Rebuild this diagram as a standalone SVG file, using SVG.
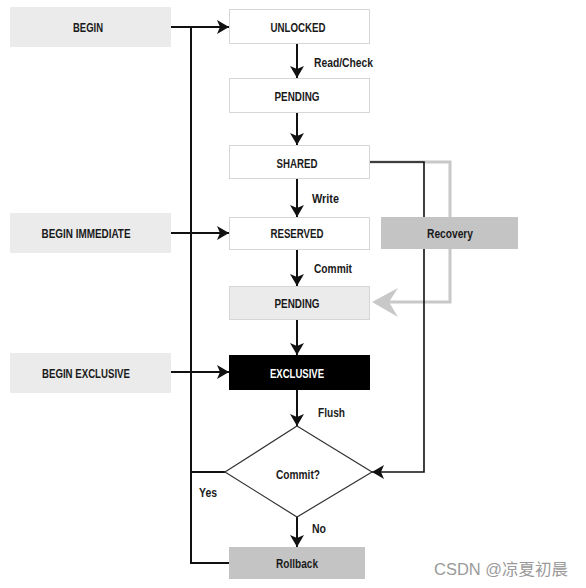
<svg xmlns="http://www.w3.org/2000/svg" width="586" height="588" viewBox="0 0 586 588">
<defs>
<style>
.t{font-family:"Liberation Sans",Arial,sans-serif;font-weight:bold;font-size:13.5px;fill:#1a1a1a;}
.c{text-anchor:middle;}
.w{fill:#ffffff;}
.box{fill:#ffffff;stroke:#d6d6d6;stroke-width:1;}
.src{fill:#ebebeb;}
.pend{fill:#ebebeb;stroke:#d6d6d6;stroke-width:1;}
.dark{fill:#000000;stroke:#000000;}
.gray{fill:#c4c4c4;}
.ln{fill:none;stroke:#111;stroke-width:2;}
.thin{fill:none;stroke:#111;stroke-width:1.6;}
.gl{fill:none;stroke:#c8c8c8;stroke-width:3;}
</style>
<marker id="ah" viewBox="0 0 12 14" refX="12" refY="7" markerWidth="12" markerHeight="14" markerUnits="userSpaceOnUse" orient="auto">
<path d="M0,0 L12,7 L0,14 L3,7 z" fill="#111"/>
</marker>
</defs>
<rect width="586" height="588" fill="#ffffff"/>
<g id="connectors">
<path class="ln" d="M171,27 H229" marker-end="url(#ah)"/>
<path class="ln" d="M191,27 V563 H229"/>
<path class="ln" d="M225,472 H191"/>
<path class="ln" d="M297,43 V78" marker-end="url(#ah)"/>
<path class="ln" d="M297,112 V145" marker-end="url(#ah)"/>
<path class="ln" d="M297,178 V217" marker-end="url(#ah)"/>
<path class="ln" d="M171,233 H229" marker-end="url(#ah)"/>
<path class="ln" d="M297,249 V286" marker-end="url(#ah)"/>
<path class="ln" d="M297,319 V355" marker-end="url(#ah)"/>
<path class="ln" d="M171,372 H229" marker-end="url(#ah)"/>
<path class="ln" d="M297,389 V426" marker-end="url(#ah)"/>
<path class="ln" d="M297,517 V547" marker-end="url(#ah)"/>
<path class="gl" d="M369,162 H450 V302 H386"/>
<path d="M372,302 L398,288 L389,302 L398,317 z" fill="#c8c8c8"/>
<path class="thin" d="M369,162 H424 V472 H372" marker-end="url(#ah)"/>
<text class="t" x="314" y="67" textLength="59" lengthAdjust="spacingAndGlyphs">Read/Check</text>
<text class="t" x="312" y="203" textLength="27" lengthAdjust="spacingAndGlyphs">Write</text>
<text class="t" x="314" y="273" textLength="38" lengthAdjust="spacingAndGlyphs">Commit</text>
<text class="t" x="318" y="417" textLength="27" lengthAdjust="spacingAndGlyphs">Flush</text>
<text class="t" x="199" y="497" textLength="18" lengthAdjust="spacingAndGlyphs">Yes</text>
<text class="t" x="312" y="533" textLength="14" lengthAdjust="spacingAndGlyphs">No</text>
</g>
<g id="begin">
<rect class="src" x="10" y="7" width="161" height="40"/>
<text class="t c" x="88" y="32" textLength="30" lengthAdjust="spacingAndGlyphs">BEGIN</text>
</g>
<g id="unlocked">
<rect class="box" x="229.5" y="9.5" width="140" height="34"/>
<text class="t c" x="298" y="32" textLength="55" lengthAdjust="spacingAndGlyphs">UNLOCKED</text>
</g>
<g id="pending1">
<rect class="box" x="229.5" y="78.5" width="140" height="34"/>
<text class="t c" x="297" y="101" textLength="45" lengthAdjust="spacingAndGlyphs">PENDING</text>
</g>
<g id="shared">
<rect class="box" x="229.5" y="145.5" width="140" height="33"/>
<text class="t c" x="297" y="168" textLength="41" lengthAdjust="spacingAndGlyphs">SHARED</text>
</g>
<g id="begin-immediate">
<rect class="src" x="10" y="213" width="161" height="40"/>
<text class="t c" x="86" y="238" textLength="89" lengthAdjust="spacingAndGlyphs">BEGIN IMMEDIATE</text>
</g>
<g id="reserved">
<rect class="box" x="229.5" y="217.5" width="140" height="32"/>
<text class="t c" x="297" y="238" textLength="53" lengthAdjust="spacingAndGlyphs">RESERVED</text>
</g>
<g id="recovery">
<rect class="gray" x="381" y="217" width="137" height="32"/>
<text class="t c" x="450" y="238" textLength="46" lengthAdjust="spacingAndGlyphs">Recovery</text>
</g>
<g id="pending2">
<rect class="pend" x="229.5" y="286.5" width="140" height="33"/>
<text class="t c" x="297" y="308" textLength="45" lengthAdjust="spacingAndGlyphs">PENDING</text>
</g>
<g id="begin-exclusive">
<rect class="src" x="10" y="353" width="161" height="40"/>
<text class="t c" x="86" y="378" textLength="88" lengthAdjust="spacingAndGlyphs">BEGIN EXCLUSIVE</text>
</g>
<g id="exclusive">
<rect class="dark" x="229.5" y="355.5" width="140" height="34"/>
<text class="t c w" x="297" y="378" textLength="54" lengthAdjust="spacingAndGlyphs">EXCLUSIVE</text>
</g>
<g id="commit-decision">
<path d="M297,426 L372,472 L297,517 L225,472 z" fill="#ffffff" stroke="#333" stroke-width="1.2"/>
<text class="t c" x="298" y="479" textLength="44" lengthAdjust="spacingAndGlyphs">Commit?</text>
</g>
<g id="rollback">
<rect class="gray" x="229" y="547" width="136" height="32"/>
<text class="t c" x="297" y="568" textLength="42" lengthAdjust="spacingAndGlyphs">Rollback</text>
</g>
<text x="434" y="575" font-family="'Liberation Sans','Noto Sans CJK SC',sans-serif" font-size="16" fill="#9a9a9a" textLength="134" lengthAdjust="spacingAndGlyphs">CSDN @凉夏初晨</text>
</svg>
